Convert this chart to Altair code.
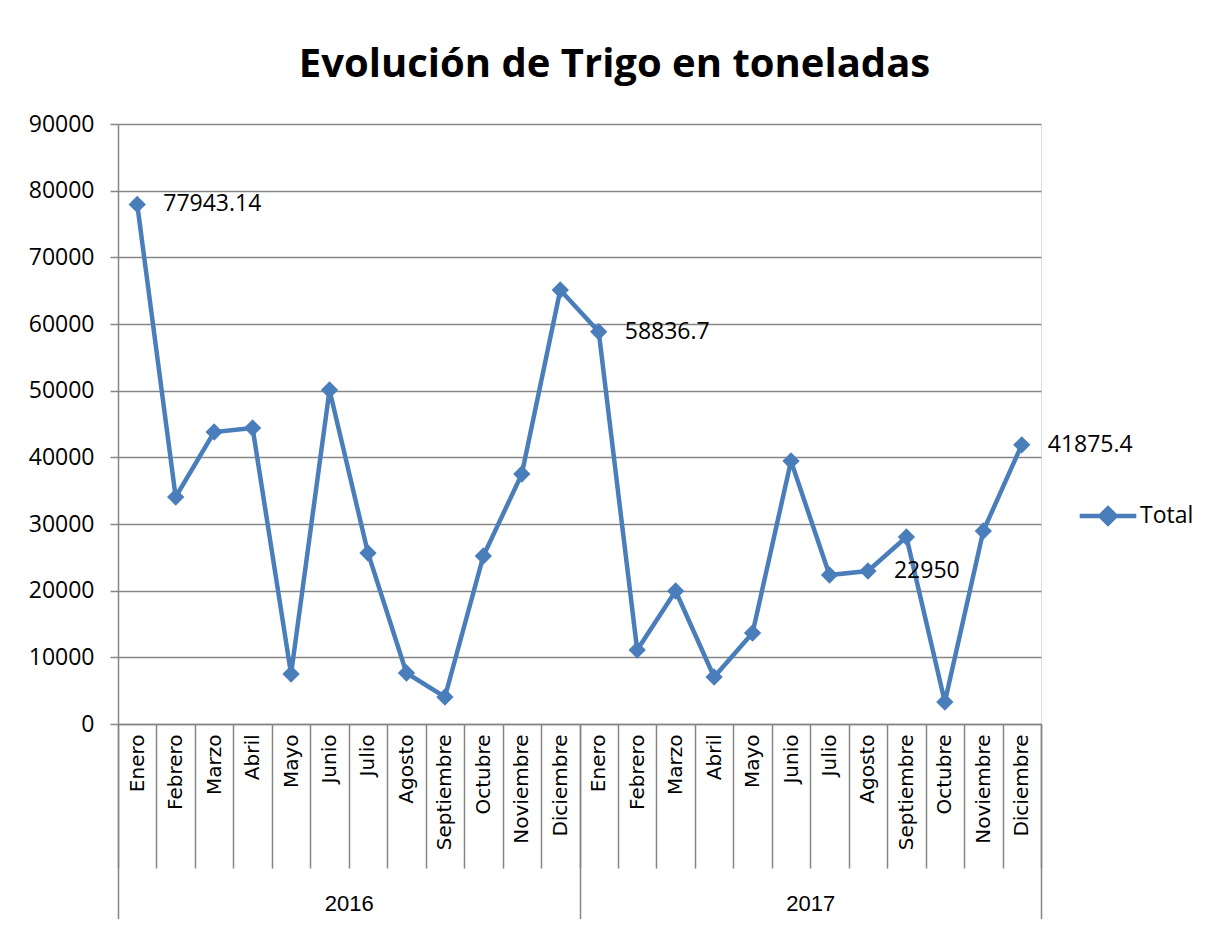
import altair as alt
import pandas as pd

months = ["Enero", "Febrero", "Marzo", "Abril", "Mayo", "Junio", "Julio",
          "Agosto", "Septiembre", "Octubre", "Noviembre", "Diciembre"]
years = ["2016", "2017"]
values_2016 = [77943.14, 34050, 43800, 44400, 7500, 50100, 25650,
               7650, 4050, 25200, 37500, 65100]
values_2017 = [58836.7, 11100, 19950, 7050, 13650, 39450, 22350,
               22950, 28050, 3300, 28950, 41875.4]
labels_2016 = ["77943.14", "", "", "", "", "", "", "", "", "", "", ""]
labels_2017 = ["58836.7", "", "", "", "", "", "", "22950", "", "", "", "41875.4"]

rows = []
for yr, vals, labs in [("2016", values_2016, labels_2016), ("2017", values_2017, labels_2017)]:
    for m, v, l in zip(months, vals, labs):
        rows.append({"key": f"{yr}|{m}", "Mes": m, "Año": yr, "Total": v,
                     "label": l, "series": "Total"})
df = pd.DataFrame(rows)
order = list(df["key"])

BLUE = "#4A7EBB"
GRID = "#868686"

x_month = alt.X(
    "key:N", sort=order, title=None,
    scale=alt.Scale(type="band", paddingInner=0, paddingOuter=0),
    axis=alt.Axis(
        labelExpr="split(datum.label, '|')[1]",
        labelAngle=270, labelFont="DejaVu Sans", labelFontSize=20,
        labelColor="#000000", labelPadding=-134, labelLimit=0,
        tickBand="extent", tickSize=144, tickColor=GRID, tickWidth=1.5,
        domainColor=GRID, domainWidth=1.5, grid=False, orient="bottom",
    ),
)
y_val = alt.Y(
    "Total:Q", title=None,
    scale=alt.Scale(domain=[0, 90000], nice=False),
    axis=alt.Axis(
        values=list(range(0, 90001, 10000)), format="d",
        labelFont="Open Sans", labelFontSize=23, labelColor="#000000",
        labelPadding=16, tickSize=8, tickColor=GRID, tickWidth=1.5,
        domainColor=GRID, domainWidth=1.5, gridColor=GRID, gridWidth=1.5,
    ),
)

color = alt.Color(
    "series:N", title=None,
    scale=alt.Scale(domain=["Total"], range=[BLUE]),
    legend=alt.Legend(
        orient="none", legendX=959, legendY=361,
        symbolType="M-1,0L1,0M0,-0.27L0.27,0L0,0.27L-0.27,0Z",
        symbolSize=3200, symbolStrokeWidth=4.5, symbolFillColor=BLUE,
        symbolStrokeColor=BLUE, symbolOpacity=1,
        labelFont="Open Sans", labelFontSize=23, labelColor="#000000",
        labelOffset=1,
    ),
)

base = alt.Chart(df)

line = base.mark_line(strokeWidth=4.5, color=BLUE).encode(x=x_month, y=y_val)
points = base.mark_point(shape="diamond", filled=True, size=300, opacity=1,
                         color=BLUE).encode(x=x_month, y=y_val, color=color)
text = base.mark_text(align="left", baseline="middle", dx=26, font="Open Sans",
                      fontSize=23, color="#000000").encode(
    x=x_month, y=y_val, text="label:N")

year_layer = base.mark_point(opacity=0).encode(
    x=alt.X(
        "Año:N", title=None, sort=years,
        scale=alt.Scale(type="band", paddingInner=0, paddingOuter=0),
        axis=alt.Axis(
            orient="bottom", tickBand="extent", tickSize=196, tickColor=GRID,
            tickWidth=1.5, domain=False, grid=False, labelAngle=0,
            labelFont="Liberation Sans", labelFontSize=22,
            labelColor="#000000", labelPadding=-27, labelBaseline="top",
        ),
    ),
    y=y_val,
)

main = alt.layer(line, points, text)
chart = alt.layer(main, year_layer).resolve_scale(x="independent").properties(
    width=923, height=600,
    title=alt.TitleParams(
        "Evolución de Trigo en toneladas", font="Open Sans", fontSize=40,
        fontWeight="bold", color="#000000", anchor="middle", dx=35, offset=28,
    ),
    autosize=alt.AutoSizeParams(type="none"),
    padding={"left": 110, "top": 116, "right": 159, "bottom": 195},
).configure_view(stroke=None).configure(background="white")

chart.save("out.html", embed_options={"renderer": "svg", "actions": False})
